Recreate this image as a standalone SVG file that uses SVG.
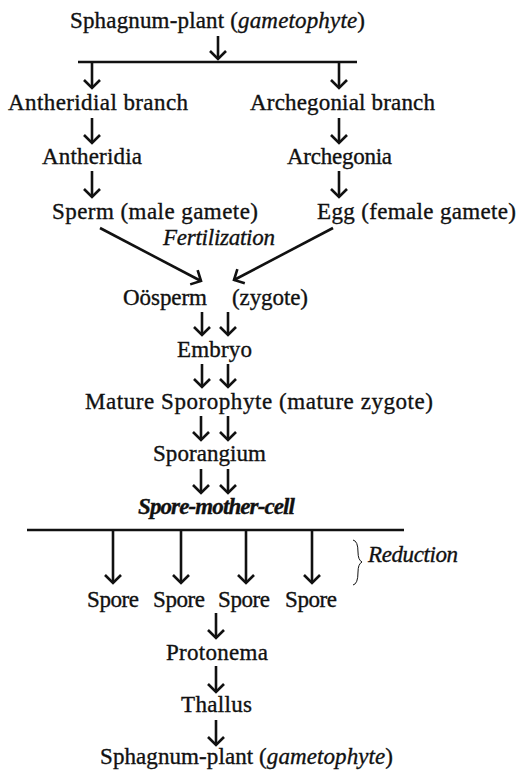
<svg xmlns="http://www.w3.org/2000/svg" width="518" height="770" viewBox="0 0 518 770">
<style>
text{font-family:'Liberation Serif',serif;font-size:23px;fill:#111;stroke:#111;stroke-width:0.35}
.it{font-style:italic}
.bi{font-style:italic;font-weight:bold}
.c line{stroke:#111;stroke-width:2.6;marker-end:url(#ah)}
.bar{stroke:#111;stroke-width:3.2}
</style>
<defs>
<marker id="ah" markerUnits="userSpaceOnUse" viewBox="-10 -10 12 20" markerWidth="12" markerHeight="20" refX="0" refY="0" orient="auto">
<path d="M-8,-8 L0,0 L-8,8" fill="none" stroke="#111" stroke-width="2.6"/>
</marker>
</defs>
<rect width="518" height="770" fill="#fff"/>
<g id="n-top"><text x="70" y="28" textLength="295">Sphagnum-plant (<tspan class="it">gametophyte</tspan>)</text></g>
<g id="n-anth-branch"><text x="8" y="110" textLength="180">Antheridial branch</text></g>
<g id="n-arch-branch"><text x="250" y="110" textLength="185">Archegonial branch</text></g>
<g id="n-antheridia"><text x="42" y="164" textLength="100">Antheridia</text></g>
<g id="n-archegonia"><text x="287" y="164" textLength="105">Archegonia</text></g>
<g id="n-sperm"><text x="52" y="219" textLength="206">Sperm (male gamete)</text></g>
<g id="n-egg"><text x="317" y="219" textLength="199">Egg (female gamete)</text></g>
<g id="l-fert"><text class="it" x="163" y="245" textLength="112">Fertilization</text></g>
<g id="n-oosperm"><text x="123" y="305" textLength="84">Oösperm</text><text x="232" y="305" textLength="76">(zygote)</text></g>
<g id="n-embryo"><text x="177" y="357" textLength="75">Embryo</text></g>
<g id="n-mature"><text x="85" y="409" textLength="348">Mature Sporophyte (mature zygote)</text></g>
<g id="n-sporangium"><text x="153" y="461" textLength="113">Sporangium</text></g>
<g id="n-smc"><text class="bi" x="138" y="514" textLength="157">Spore-mother-cell</text></g>
<g id="l-reduction"><path d="M353,540 Q358,541 358,552 Q358,560 362,562 Q358,564 358,572 Q358,584 353,585" fill="none" stroke="#111" stroke-width="1"/><text class="it" x="368" y="562" textLength="90">Reduction</text></g>
<g id="n-spores"><text x="87" y="607" textLength="52">Spore</text><text x="153" y="607" textLength="52">Spore</text><text x="218" y="607" textLength="52">Spore</text><text x="285" y="607" textLength="52">Spore</text></g>
<g id="n-protonema"><text x="166" y="660" textLength="102">Protonema</text></g>
<g id="n-thallus"><text x="181" y="712" textLength="71">Thallus</text></g>
<g id="n-bottom"><text x="100" y="764" textLength="293">Sphagnum-plant (<tspan class="it">gametophyte</tspan>)</text></g>
<g id="connectors" class="c">
<line x1="218" y1="36" x2="218" y2="59"/>
<line class="bar" x1="78" y1="62" x2="357" y2="62" style="marker-end:none"/>
<line x1="92" y1="62" x2="92" y2="88"/>
<line x1="339" y1="62" x2="339" y2="88"/>
<line x1="92" y1="118" x2="92" y2="143"/>
<line x1="339" y1="118" x2="339" y2="143"/>
<line x1="92" y1="171" x2="92" y2="197"/>
<line x1="339" y1="171" x2="339" y2="197"/>
<line x1="100" y1="228" x2="201" y2="281"/>
<line x1="333" y1="228" x2="234" y2="280"/>
<line x1="202" y1="312" x2="202" y2="335"/>
<line x1="228" y1="312" x2="228" y2="335"/>
<line x1="202" y1="364" x2="202" y2="387"/>
<line x1="228" y1="364" x2="228" y2="387"/>
<line x1="201" y1="416" x2="201" y2="440"/>
<line x1="228" y1="416" x2="228" y2="440"/>
<line x1="201" y1="469" x2="201" y2="493"/>
<line x1="228" y1="469" x2="228" y2="493"/>
<line class="bar" x1="27" y1="530" x2="404" y2="530" style="marker-end:none"/>
<line x1="113" y1="530" x2="113" y2="583"/>
<line x1="181" y1="530" x2="181" y2="583"/>
<line x1="246" y1="530" x2="246" y2="583"/>
<line x1="312" y1="530" x2="312" y2="583"/>
<line x1="216" y1="613" x2="216" y2="638"/>
<line x1="216" y1="666" x2="216" y2="692"/>
<line x1="216" y1="720" x2="216" y2="745"/>
</g>
</svg>
